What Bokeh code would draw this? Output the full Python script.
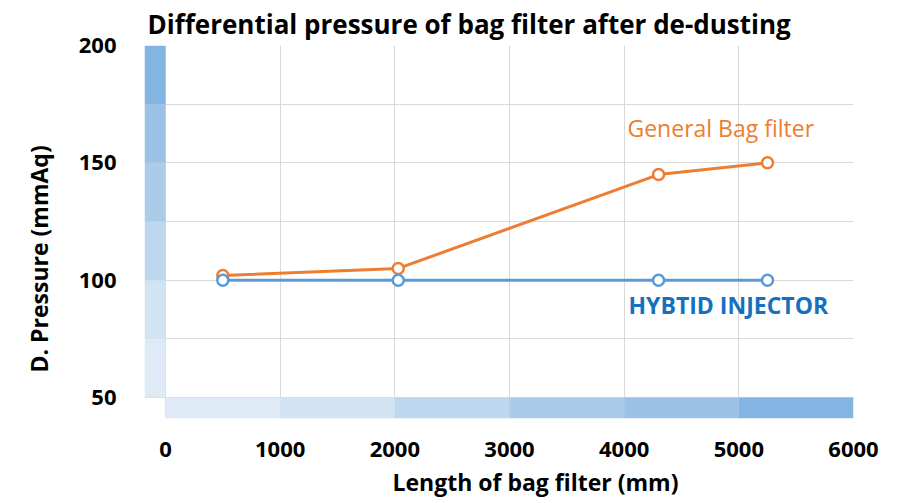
from bokeh.plotting import figure
from bokeh.models import FixedTicker, Label, Range1d, Title
from bokeh.embed import file_html
from bokeh.resources import INLINE

# ---- data ----
length_general = [500, 2030, 4300, 5250]
pressure_general = [102, 105, 145, 150]
length_hybrid = [500, 2030, 4300, 5250]
pressure_hybrid = [100, 100, 100, 100]
x_ticks = [0, 1000, 2000, 3000, 4000, 5000, 6000]
y_ticks = [50, 100, 150, 200]
y_grid = [50, 75, 100, 125, 150, 175, 200]

title_text = "Differential pressure of bag filter after de-dusting"
x_title = "Length of bag filter (mm)"
y_title = "D. Pressure (mmAq)"
name_general = "General Bag filter"
name_hybrid = "HYBTID INJECTOR"

# ---- styles ----
ORANGE = "#ED7D31"
BLUE = "#5B9BD5"
BLUE_TEXT = "#1570C0"
band_colors = ["#deebf7", "#d2e4f4", "#bdd7ee", "#abcbe9", "#9bc2e6", "#84b4e1"]
FONT = "Open Sans"

X0, Y0 = -183, 41.05

p = figure(width=900, height=503, output_backend="svg", toolbar_location=None,
           x_range=Range1d(X0, 6000), y_range=Range1d(Y0, 200),
           min_border_left=144, min_border_right=47,
           min_border_top=45, min_border_bottom=85)

p.outline_line_color = None
p.background_fill_color = "white"

p.title.text = title_text
p.title.text_font = FONT
p.title.text_font_size = "26px"
p.title.text_font_style = "bold"
p.title.text_color = "black"
p.title.align = "left"
p.title.offset = 3
p.title.standoff = 7

for ax in (p.xaxis, p.yaxis):
    ax.axis_line_color = None
    ax.major_tick_line_color = None
    ax.minor_tick_line_color = None
    ax.major_tick_in = 0
    ax.major_tick_out = 0
    ax.major_label_text_font = FONT
    ax.major_label_text_font_style = "bold"
    ax.major_label_text_font_size = "22px"
    ax.major_label_text_color = "black"

p.xaxis.ticker = FixedTicker(ticks=x_ticks)
p.yaxis.ticker = FixedTicker(ticks=y_ticks)
p.xaxis.major_label_standoff = 23
p.yaxis.major_label_standoff = 28

p.xgrid.ticker = FixedTicker(ticks=x_ticks)
p.ygrid.ticker = FixedTicker(ticks=y_grid)
for g in (p.xgrid, p.ygrid):
    g.grid_line_color = "#d9d9d9"
    g.grid_line_width = 1

# axis titles as side titles (allow offsets along the axis)
p.add_layout(Title(text=y_title, align="left", offset=46, standoff=41,
                   text_font=FONT, text_font_size="23px", text_font_style="bold",
                   text_color="black"), "left")
p.add_layout(Title(text=x_title, align="left", offset=248, standoff=8,
                   text_font=FONT, text_font_size="23px", text_font_style="bold",
                   text_color="black"), "below")

# decorative colour bands along the axes
p.quad(left=X0, right=0, bottom=y_grid[:-1], top=y_grid[1:],
       fill_color=band_colors, line_color=None)
p.quad(left=x_ticks[:-1], right=x_ticks[1:], bottom=Y0, top=y_ticks[0],
       fill_color=band_colors, line_color=None)

# series
p.line(length_general, pressure_general, line_color=ORANGE, line_width=3)
p.scatter(length_general, pressure_general, marker="circle", size=11,
          fill_color="white", line_color=ORANGE, line_width=2.5)
p.line(length_hybrid, pressure_hybrid, line_color=BLUE, line_width=3)
p.scatter(length_hybrid, pressure_hybrid, marker="circle", size=11,
          fill_color="white", line_color=BLUE, line_width=2.5)

# series labels
p.add_layout(Label(x=4029, y=164.7, text=name_general, text_font=FONT,
                   text_font_size="23px", text_color=ORANGE,
                   text_align="left", text_baseline="middle"))
p.add_layout(Label(x=4038, y=89.6, text=name_hybrid, text_font=FONT,
                   text_font_size="23px", text_font_style="bold",
                   text_color=BLUE_TEXT, text_align="left", text_baseline="middle"))

open("out.html", "w").write(file_html(p, INLINE))
